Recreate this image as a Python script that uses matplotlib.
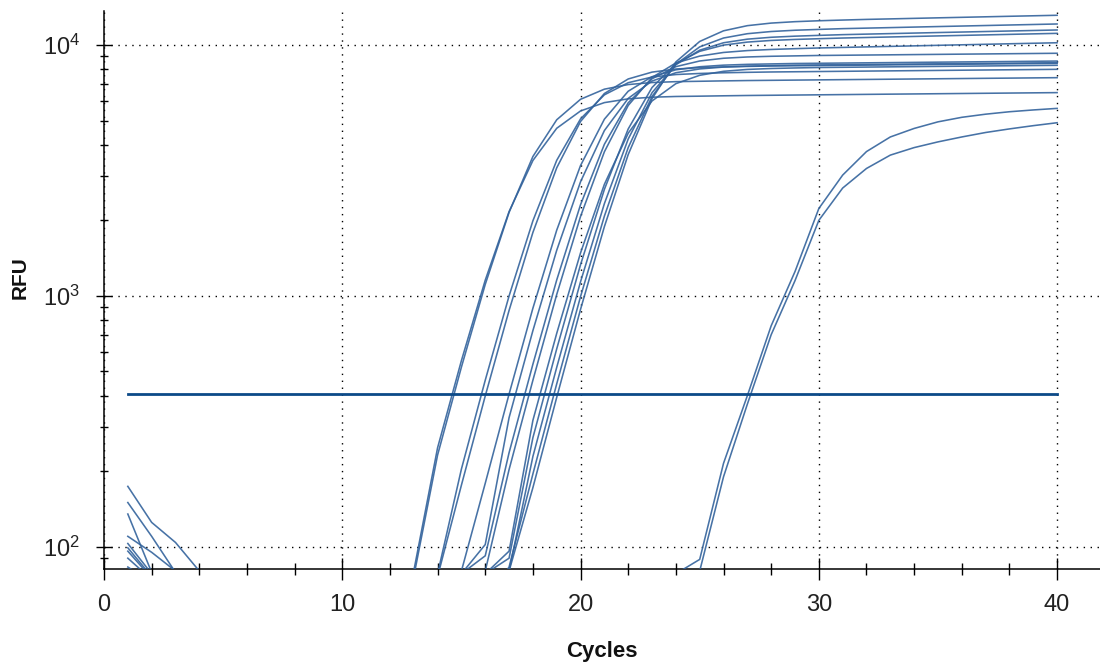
import matplotlib
matplotlib.use("Agg")
import matplotlib.pyplot as plt
from matplotlib import font_manager
from matplotlib.ticker import MultipleLocator, LogLocator, NullFormatter

# ---------------- data (RFU per cycle) ----------------
cycles = list(range(1, 41))

c01 = [174, 125, 104, 80, 60, 60, 60, 60, 60, 60, 60, 60, 80,
       248, 552, 1155, 2167, 3465, 4657, 5460, 5894, 6101, 6194, 6235, 6253, 6274, 6292,
       6305, 6318, 6331, 6344, 6357, 6370, 6382, 6395, 6408, 6421, 6434, 6447, 6460]
c02 = [150, 110, 79, 60, 60, 60, 60, 60, 60, 60, 60, 60, 76,
       232, 520, 1111, 2152, 3594, 5035, 6077, 6668, 6956, 7087, 7144, 7169, 7195, 7217,
       7232, 7247, 7262, 7277, 7291, 7306, 7321, 7336, 7351, 7366, 7380, 7395, 7410]
c03 = [135, 79, 60, 60, 60, 60, 60, 60, 60, 60, 60, 60, 60, 78,
       204, 461, 999, 1992, 3470, 5077, 6330, 7076, 7453, 7626, 7702, 7751, 7782,
       7808, 7824, 7840, 7856, 7872, 7888, 7904, 7920, 7936, 7952, 7968, 7984, 8000]
c04 = [110, 95, 80, 60, 60, 60, 60, 60, 60, 60, 60, 60, 60, 76,
       176, 399, 875, 1790, 3240, 4957, 6407, 7322, 7798, 8021, 8121, 8180, 8217,
       8247, 8264, 8281, 8298, 8315, 8332, 8349, 8366, 8382, 8399, 8416, 8433, 8450]
c05 = [103, 78, 60, 60, 60, 60, 60, 60, 60, 60, 60, 60, 60, 60, 80,
       179, 406, 893, 1828, 3309, 5062, 6543, 7478, 7965, 8192, 8312, 8373,
       8408, 8440, 8457, 8475, 8492, 8509, 8526, 8544, 8561, 8578, 8595, 8613, 8630]
c06 = [99, 76, 60, 60, 60, 60, 60, 60, 60, 60, 60, 60, 60, 60, 78, 102,
       327, 727, 1520, 2851, 4560, 6127, 7184, 7755, 8028, 8168, 8238,
       8278, 8313, 8330, 8347, 8364, 8381, 8398, 8415, 8432, 8449, 8466, 8483, 8500]
c07 = [96, 75, 60, 60, 60, 60, 60, 60, 60, 60, 60, 60, 60, 60, 78, 92,
       237, 534, 1157, 2310, 4021, 5882, 7335, 8199, 8636, 8855, 8961,
       9018, 9051, 9085, 9103, 9122, 9140, 9159, 9177, 9196, 9214, 9233, 9251, 9270]
c08 = [90, 74, 60, 60, 60, 60, 60, 60, 60, 60, 60, 60, 60, 60, 60, 80,
       203, 461, 1013, 2074, 3753, 5742, 7421, 8483, 9034, 9340, 9502,
       9600, 9670, 9733, 9781, 9829, 9876, 9924, 9972, 10019, 10067, 10115, 10162, 10210]
c09 = [83, 72, 60, 60, 60, 60, 60, 60, 60, 60, 60, 60, 60, 60, 60, 78, 96,
       319, 709, 1484, 2784, 4452, 5984, 7015, 7573, 7856, 7992,
       8061, 8101, 8134, 8151, 8167, 8184, 8200, 8217, 8234, 8250, 8267, 8283, 8300]
c10 = [60, 60, 60, 60, 60, 60, 60, 60, 60, 60, 60, 60, 60, 60, 60, 78, 90,
       272, 615, 1332, 2658, 4628, 6771, 8443, 9439, 9991, 10273,
       10428, 10525, 10595, 10663, 10715, 10766, 10818, 10871, 10922, 10974, 11026, 11078, 11130]
c11 = [60, 60, 60, 60, 60, 60, 60, 60, 60, 60, 60, 60, 60, 60, 60, 60, 80,
       229, 519, 1139, 2332, 4220, 6456, 8345, 9537, 10209, 10552,
       10737, 10847, 10925, 10998, 11052, 11105, 11159, 11213, 11265, 11319, 11373, 11426, 11480]
c12 = [60, 60, 60, 60, 60, 60, 60, 60, 60, 60, 60, 60, 60, 60, 60, 60, 83,
       195, 446, 994, 2079, 3901, 6238, 8384, 9829, 10664, 11094,
       11320, 11452, 11540, 11621, 11677, 11733, 11790, 11847, 11903, 11960, 12017, 12073, 12130]
c13 = [60, 60, 60, 60, 60, 60, 60, 60, 60, 60, 60, 60, 60, 60, 60, 60, 80,
       172, 394, 884, 1888, 3659, 6110, 8562, 10332, 11393, 11944,
       12230, 12390, 12494, 12575, 12650, 12710, 12772, 12834, 12894, 12956, 13018, 13078, 13140]
c14 = [60, 60, 60, 60, 60, 60, 60, 60, 60, 60, 60, 60, 60, 60, 60, 60, 60, 60, 60, 60,
       60, 60, 60, 78, 89, 215, 400, 760, 1250, 2230, 3030, 3760, 4300, 4650, 4940,
       5150, 5300, 5420, 5510, 5590]
c15 = [60, 60, 60, 60, 60, 60, 60, 60, 60, 60, 60, 60, 60, 60, 60, 60, 60, 60, 60, 60,
       60, 60, 60, 60, 80, 190, 370, 700, 1150, 2000, 2690, 3220, 3640, 3900, 4110,
       4300, 4480, 4630, 4770, 4900]

curves = [c01, c02, c03, c04, c05, c06, c07, c08, c09, c10, c11, c12, c13, c14, c15]

threshold_rfu = 406
threshold_cycles = [1, 40]

x_ticks_major = 10
x_ticks_minor = 2

# ---------------- fonts ----------------
names = {f.name for f in font_manager.fontManager.ttflist}
fam = "Liberation Sans Narrow" if "Liberation Sans Narrow" in names else "Liberation Sans"
plt.rcParams["font.family"] = [fam, "DejaVu Sans"]

# ---------------- figure ----------------
W, H = 1100, 666
fig = plt.figure(figsize=(W / 100, H / 100), dpi=100)
fig.patch.set_facecolor("white")
ax = fig.add_axes([104 / W, (H - 569) / H, (W - 104) / W, (569 - 11) / H])

line_color = "#33639c"
for c in curves:
    ax.plot(cycles, c, color=line_color, lw=1.15, alpha=0.9, solid_joinstyle="round", zorder=3)

ax.plot(threshold_cycles, [threshold_rfu, threshold_rfu], color="#0c4a88", lw=2.0, zorder=4)

ax.set_yscale("log")
ax.set_xlim(0, 41.8)
ax.set_ylim(81.5, 13665)

ax.xaxis.set_major_locator(MultipleLocator(x_ticks_major))
ax.xaxis.set_minor_locator(MultipleLocator(x_ticks_minor))
ax.yaxis.set_major_locator(LogLocator(base=10))
ax.yaxis.set_minor_locator(LogLocator(base=10, subs=range(2, 10)))
ax.yaxis.set_minor_formatter(NullFormatter())

for s in ["top", "right"]:
    ax.spines[s].set_visible(False)
for s in ["left", "bottom"]:
    ax.spines[s].set_linewidth(1.1)
    ax.spines[s].set_color("black")

ax.tick_params(axis="x", which="major", direction="inout", length=15.8, width=1.0, pad=10,
               labelsize=17, labelcolor="#222222")
ax.tick_params(axis="x", which="minor", direction="inout", length=8, width=1.0)
ax.tick_params(axis="y", which="major", direction="inout", length=12.2, width=1.0, pad=11,
               labelsize=17, labelcolor="#222222")
ax.tick_params(axis="y", which="minor", direction="inout", length=5.8, width=1.0)

ax.grid(which="major", color="black", linestyle=(0, (1, 4)), linewidth=1.0, zorder=1)

ax.set_xlabel("Cycles", fontsize=16, fontweight="bold", color="#111111")
ax.xaxis.set_label_coords(0.5, -0.147)
ax.xaxis.label.set_va("center")
ax.set_ylabel("RFU", fontsize=15, fontweight="bold", color="#111111")
ax.yaxis.set_label_coords(-0.0846, 0.5215)
ax.yaxis.label.set_va("center")

fig.savefig("out.png", dpi=100, facecolor="white")
